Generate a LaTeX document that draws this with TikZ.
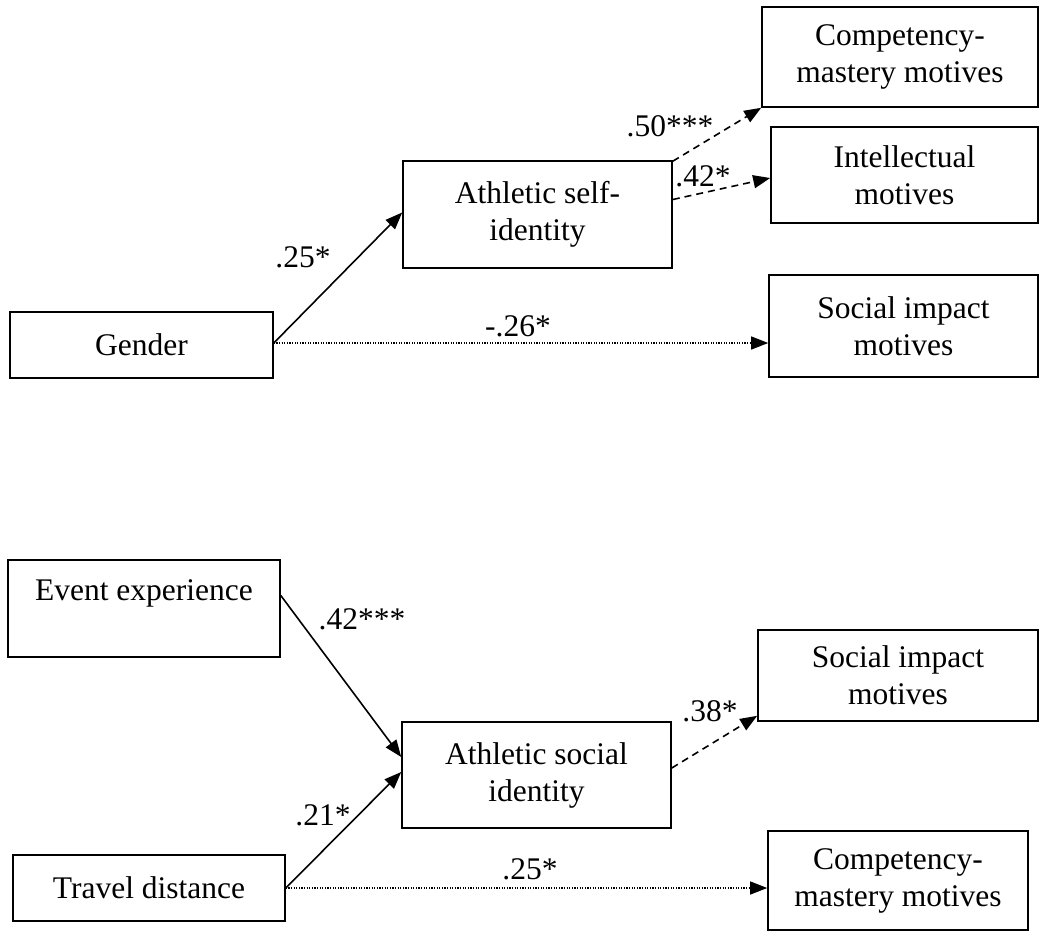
\documentclass[tikz,border=0pt]{standalone}
\usepackage{fontspec}
\setmainfont{Liberation Serif}
\usetikzlibrary{arrows.meta,calc}
\begin{document}
\begin{tikzpicture}[x=1pt,y=-1pt,
  box/.style={draw, line width=1.6pt, rectangle, align=center, inner sep=0pt,
    font=\fontsize{31.5}{37}\selectfont},
  lab/.style={font=\fontsize{31.5}{37}\selectfont, inner sep=0pt},
  arr/.style={line width=1.6pt, -{Triangle[length=17pt,width=13pt]}},
  dsh/.style={arr, dash pattern=on 7pt off 5pt},
  dot/.style={line width=1.2pt, dash pattern=on 1.2pt off 1.4pt, -{Triangle[length=17pt,width=13pt]}}
]
\useasboundingbox (0,0) rectangle (1039,932);
% top panel
\node[box, minimum width=276pt, minimum height=100pt] (comp1) at (900,57) {Competency-\\mastery motives};
\node[box, minimum width=267pt, minimum height=96pt] (intel) at (904.5,175) {Intellectual\\motives};
\node[box, minimum width=269pt, minimum height=107pt] (ase) at (537.5,214.5) {Athletic self-\\identity};
\node[box, minimum width=263pt, minimum height=66pt] (gender) at (141.5,345) {Gender};
\node[box, minimum width=269pt, minimum height=102pt] (soc1) at (903.5,326) {Social impact\\motives};
% bottom panel
\node[box, minimum width=272pt, minimum height=97pt] (ee) at (144,608.5) {Event experience\\\mbox{}};
\node[box, minimum width=269pt, minimum height=106pt] (asi) at (536.5,775) {Athletic social\\identity};
\node[box, minimum width=280pt, minimum height=91pt] (soc2) at (898,675.5) {Social impact\\motives};
\node[box, minimum width=260pt, minimum height=99pt] (comp2) at (898,880.5) {Competency-\\mastery motives};
\node[box, minimum width=272pt, minimum height=66pt] (travel) at (149,888) {Travel distance};
% connectors top
\draw[arr] ([yshift=2pt]gender.east) -- ([yshift=2pt]ase.west);
\draw[dot] ([yshift=2pt]gender.east) -- ([yshift=2pt]gender.east -| soc1.west);
\draw[dsh] ([yshift=-1pt]ase.north east) -- (comp1.south west);
\draw[dsh] ([yshift=15pt]ase.east) -- ([yshift=-3pt]intel.west);
% connectors bottom
\draw[arr] ([yshift=13pt]ee.east) -- ([yshift=18pt]asi.west);
\draw[arr] (travel.east) -- ([yshift=3pt]asi.west);
\draw[dot] (travel.east) -- (travel.east -| comp2.west);
\draw[dsh] ([yshift=7pt]asi.east) -- ([yshift=6pt]soc2.south west);
% labels
\node[lab] (l1) at (303,257) {.25*};
\node[lab] (l2) at (518,326) {-.26*};
\node[lab] (l3) at (670,126) {.50***};
\node[lab] (l4) at (703,176) {.42*};
\node[lab] (l5) at (362,619) {.42***};
\node[lab] (l6) at (323,815) {.21*};
\node[lab] (l7) at (530,869) {.25*};
\node[lab] (l8) at (710,711) {.38*};
\end{tikzpicture}
\end{document}
